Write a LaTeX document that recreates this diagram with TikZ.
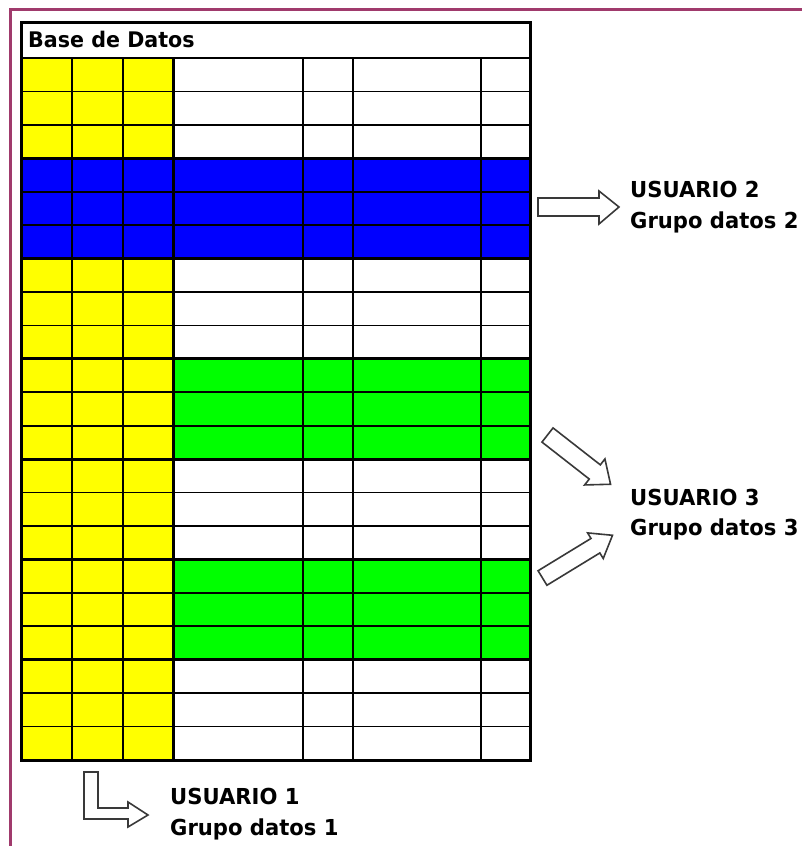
\documentclass[tikz,border=0pt]{standalone}
\usepackage{fontspec}
\setmainfont{DejaVu Sans}
\newfontfamily\labfont[FakeStretch=0.96]{DejaVu Sans}
\definecolor{frame}{HTML}{A03A6C}
\definecolor{yel}{HTML}{FFFF00}
\definecolor{blu}{HTML}{0000FF}
\definecolor{grn}{HTML}{00FF00}
\tikzset{
  thinline/.style={line width=1.8pt, black},
  thickline/.style={line width=3pt, black},
  label/.style={anchor=base west, inner sep=0pt, font=\labfont\fontsize{22}{22}\selectfont\bfseries},
  blockarrow/.style={fill=white, draw=gray!45!black, line width=1.6pt, line join=miter},
}
\begin{document}
\begin{tikzpicture}[x=1pt,y=-1pt]
\useasboundingbox (0,0) rectangle (802,846);
% frame
\draw[frame, line width=3.5pt] (10.5,880) -- (10.5,9.5) -- (830,9.5);
% fills
\def\rh{33.4286}
\fill[yel] (21,58) rectangle (173,760);
\fill[blu] (21,{58+3*\rh}) rectangle (530,{58+6*\rh});
\fill[grn] (173,{58+9*\rh}) rectangle (530,{58+12*\rh});
\fill[grn] (173,{58+15*\rh}) rectangle (530,{58+18*\rh});
% thin grid
\foreach \i in {1,...,20} \draw[thinline] (21,{58+\i*\rh}) -- (530,{58+\i*\rh});
\foreach \x in {72,123,303,353,481} \draw[thinline] (\x,58) -- (\x,760);
% thick lines
\foreach \i in {3,6,9,12,15,18} \draw[thickline] (21,{58+\i*\rh}) -- (530,{58+\i*\rh});
\draw[thickline] (173,58) -- (173,760);
\draw[line width=2.2pt] (21,58) -- (530,58);
\draw[thickline] (21,22) rectangle (530,760);
% title
\node[label, font=\labfont\fontsize{21.5}{21.5}\selectfont\bfseries] (title) at (28,47) {Base de Datos};
% arrow 2
\draw[blockarrow] (538,198) -- (599,198) -- (599,191) -- (619,207) -- (599,224) -- (599,216) -- (538,216) -- cycle;
% arrow 3a
\begin{scope}[shift={(547.5,435)}, rotate=-38]
\draw[blockarrow] (0,-9) -- (60,-9) -- (60,-16.5) -- (80,0) -- (60,16.5) -- (60,9) -- (0,9) -- cycle;
\end{scope}
% arrow 3b
\begin{scope}[shift={(542.5,578)}, rotate=31.4]
\draw[blockarrow] (0,-8.5) -- (62,-8.5) -- (62,-15) -- (82,0) -- (62,15) -- (62,8.5) -- (0,8.5) -- cycle;
\end{scope}
% arrow 1
\draw[blockarrow] (84,772) -- (98,772) -- (98,808) -- (128,808) -- (128,802) -- (148,815) -- (128,827) -- (128,819) -- (84,819) -- cycle;
% labels
\node[label] (u2) at (630,197) {USUARIO 2};
\node[label] (g2) at (630,228) {Grupo datos 2};
\node[label] (u3) at (630,505) {USUARIO 3};
\node[label] (g3) at (630,535) {Grupo datos 3};
\node[label] (u1) at (170,804) {USUARIO 1};
\node[label] (g1) at (170,835) {Grupo datos 1};
\end{tikzpicture}
\end{document}
